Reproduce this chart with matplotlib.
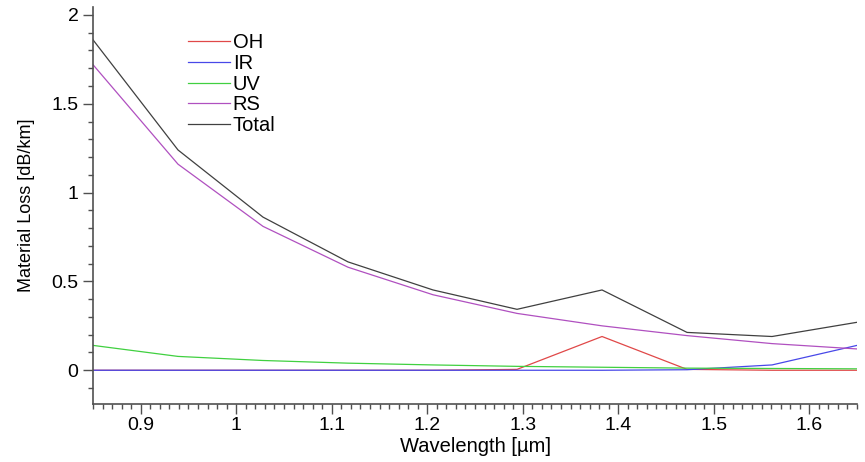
import numpy as np
import matplotlib.pyplot as plt
from matplotlib.ticker import MultipleLocator

# wavelength samples [um]
wl = [0.85, 0.939, 1.028, 1.117, 1.206, 1.294, 1.383, 1.472, 1.561, 1.65]

# loss components [dB/km]
oh = [0.0, 0.0, 0.0, 0.0, 0.0, 0.005, 0.19, 0.005, 0.0, 0.0]
ir = [0.0, 0.0, 0.0, 0.0, 0.0, 0.0, 0.0, 0.003, 0.03, 0.14]
uv = [0.14, 0.078, 0.055, 0.04, 0.03, 0.022, 0.017, 0.012, 0.01, 0.008]
rs = [1.72, 1.16, 0.81, 0.58, 0.425, 0.32, 0.25, 0.195, 0.15, 0.12]
total = [1.86, 1.24, 0.862, 0.61, 0.452, 0.343, 0.452, 0.213, 0.19, 0.27]

plt.rcParams['font.family'] = ['Liberation Sans', 'DejaVu Sans']

fig = plt.figure(figsize=(8.65, 4.62), dpi=100)
ax = fig.add_axes([0.1075, 0.1255, 0.8833, 0.8595])

ax.plot(wl, oh, color='#e04848', lw=0.9, label='OH')
ax.plot(wl, ir, color='#4848e8', lw=0.9, label='IR')
ax.plot(wl, uv, color='#40d040', lw=0.9, label='UV')
ax.plot(wl, rs, color='#b050c0', lw=0.9, label='RS')
ax.plot(wl, total, color='#404040', lw=0.9, label='Total')

ax.set_xlim(0.85, 1.65)
ax.set_ylim(-0.19, 2.045)
ax.xaxis.set_major_locator(MultipleLocator(0.1))
ax.xaxis.set_minor_locator(MultipleLocator(0.01))
ax.yaxis.set_major_locator(MultipleLocator(0.5))
ax.yaxis.set_minor_locator(MultipleLocator(0.1))
ax.xaxis.set_major_formatter(plt.FuncFormatter(lambda v, p: f"{v:g}"))
ax.yaxis.set_major_formatter(plt.FuncFormatter(lambda v, p: f"{v:g}"))

for s in ['top', 'right']:
    ax.spines[s].set_visible(False)
for s in ['left', 'bottom']:
    ax.spines[s].set_color('#505050')
    ax.spines[s].set_linewidth(1.2)
ax.tick_params(which='major', length=7, width=1, color='#505050', labelsize=14)
ax.tick_params(axis='x', which='major', pad=2)
ax.tick_params(which='minor', length=3.5, width=1, color='#505050')

ax.set_xlabel('Wavelength [µm]', fontsize=14.5, va='center')
ax.xaxis.set_label_coords(0.5, -0.108)
ax.set_ylabel('Material Loss [dB/km]', fontsize=13, labelpad=12)

ax.legend(loc='upper left', bbox_to_anchor=(0.106, 0.97), frameon=False,
          fontsize=14.5, handlelength=2.1, handletextpad=0.12, labelspacing=0.09,
          borderaxespad=0.3)

fig.savefig('out.png', dpi=100)
